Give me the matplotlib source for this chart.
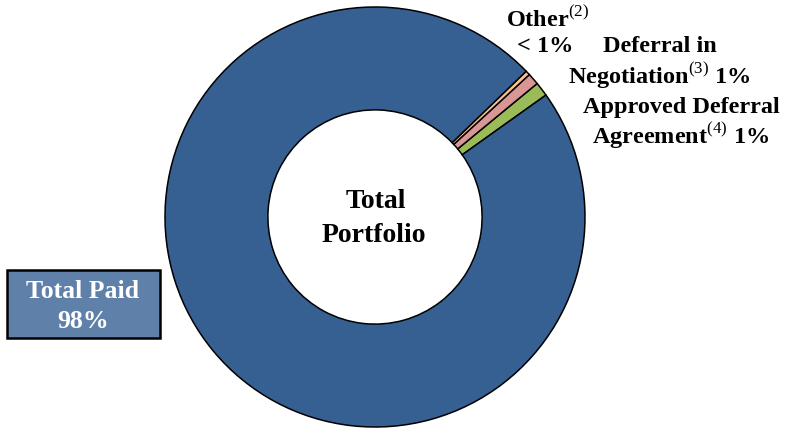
import matplotlib
matplotlib.use('Agg')
import matplotlib.pyplot as plt
from matplotlib.patches import Rectangle

plt.rcParams['font.family'] = 'Liberation Serif'
plt.rcParams['mathtext.fontset'] = 'custom'
plt.rcParams['mathtext.rm'] = 'Liberation Serif'
plt.rcParams['mathtext.bf'] = 'Liberation Serif:bold'

# data (order: counter-clockwise from the green slice)
categories = ['Approved Deferral Agreement', 'Deferral in Negotiation', 'Other', 'Total Paid']
values = [1.1, 0.9, 0.35, 97.65]
colors = ['#9BBB59', '#D99694', '#FAC090', '#376092']

W, H = 789, 434
fig = plt.figure(figsize=(W / 100, H / 100), dpi=100)

def px(x, y):
    return x / W, 1 - y / H

cx, cy, r = 375, 217, 210
ax = fig.add_axes([(cx - r) / W, (H - cy - r) / H, 2 * r / W, 2 * r / H])
ax.pie(values, colors=colors, startangle=35.5, counterclock=True, radius=1,
       wedgeprops=dict(width=0.49, edgecolor='black', linewidth=1.1))
ax.set_xlim(-1, 1)
ax.set_ylim(-1, 1)
ax.axis('off')

# centre label
fig.text(*px(376, 202), 'Total', ha='center', va='center', fontsize=20, fontweight='bold')
fig.text(*px(374, 236), 'Portfolio', ha='center', va='center', fontsize=20, fontweight='bold')

# slice labels, one text per line
fs = 17.5
label_lines = [
    (548, 19, 'Other$^{\\mathrm{(2)}}$'),
    (545, 47, '< 1%'),
    (660, 47, 'Deferral in'),
    (659, 76, 'Negotiation$^{\\mathrm{(3)}}$ 1%'),
    (681, 107, 'Approved Deferral'),
    (681, 136, 'Agreement$^{\\mathrm{(4)}}$ 1%'),
]
for x, y, s in label_lines:
    fig.text(*px(x, y), s, ha='center', va='center', fontsize=fs, fontweight='bold')

# Total Paid label box
bx0, by0, bx1, by1 = 7, 270, 160, 338
fig.patches.append(Rectangle(px(bx0, by1), (bx1 - bx0) / W, (by1 - by0) / H,
                             transform=fig.transFigure, facecolor='#5F80A9',
                             edgecolor='black', linewidth=1.8))
fig.text(*px(83, 291), 'Total Paid', ha='center', va='center', color='white',
         fontsize=18.5, fontweight='bold')
fig.text(*px(83, 321), '98%', ha='center', va='center', color='white',
         fontsize=18.5, fontweight='bold')

fig.savefig('out.png', dpi=100)
